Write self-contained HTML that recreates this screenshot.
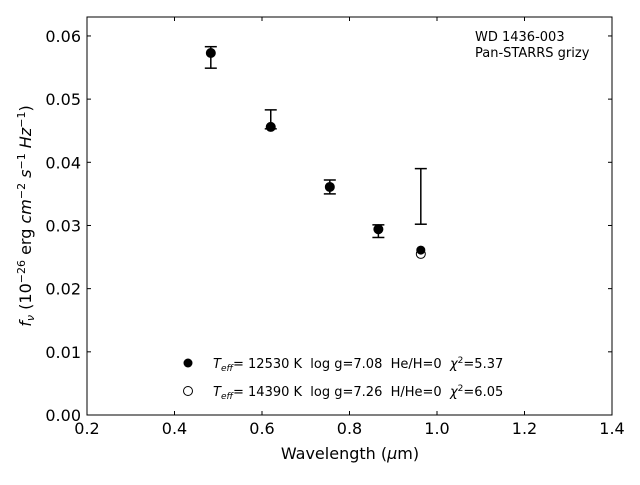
<!DOCTYPE html>
<html><head><meta charset="utf-8"><style>
body{margin:0;background:#fff}
svg{font-family:"DejaVu Sans","Liberation Sans",sans-serif}
text{white-space:pre}
</style></head><body>
<svg id="c" width="640" height="480" viewBox="0 0 640 480">
<rect x="87" y="17" width="525" height="398" fill="#fff" stroke="#000" stroke-width="1"/>
<g id="axes"></g><g id="marks"></g>
<text x="475" y="41" font-size="13">WD 1436-003</text>
<text x="475" y="57" font-size="13">Pan-STARRS grizy</text>
<text x="350" y="459" font-size="16" text-anchor="middle">Wavelength (<tspan font-style="italic">μ</tspan>m)</text>
<text transform="translate(31,216) rotate(-90)" font-size="16" text-anchor="middle"><tspan font-style="italic">f<tspan font-size="11" dy="3">ν</tspan></tspan><tspan dy="-3"> (10</tspan><tspan font-size="11" dy="-6">−26</tspan><tspan dy="6"> erg </tspan><tspan font-style="italic">cm</tspan><tspan font-size="11" dy="-6">−2</tspan><tspan dy="6" font-style="italic"> s</tspan><tspan font-size="11" dy="-6">−1</tspan><tspan dy="6" font-style="italic"> Hz</tspan><tspan font-size="11" dy="-6">−1</tspan><tspan dy="6">)</tspan></text>
<g>
<circle cx="188" cy="363" r="4.5" fill="#000"/>
<text x="213" y="368" font-size="13" xml:space="preserve"><tspan font-style="italic">T<tspan font-size="9" dy="3">eff</tspan></tspan><tspan dy="-3">= 12530 K  log g=7.08  He/H=0  </tspan><tspan font-style="italic">χ</tspan><tspan font-size="9" dy="-5">2</tspan><tspan dy="5">=5.37</tspan></text>
<circle cx="188" cy="391" r="4.5" fill="#fff" stroke="#000"/>
<text x="213" y="396" font-size="13" xml:space="preserve"><tspan font-style="italic">T<tspan font-size="9" dy="3">eff</tspan></tspan><tspan dy="-3">= 14390 K  log g=7.26  H/He=0  </tspan><tspan font-style="italic">χ</tspan><tspan font-size="9" dy="-5">2</tspan><tspan dy="5">=6.05</tspan></text>
</g>
</svg>
<script>
const wavelengths=[0.483,0.620,0.755,0.866,0.963];
const obsFlux=[0.0566,0.0468,0.0361,0.0291,0.0346];
const obsErr=[0.0017,0.0015,0.0011,0.0010,0.0044];
const model1=[0.0573,0.0456,0.0361,0.0294,0.0261];
const model2=[0.0573,0.0456,0.0361,0.0294,0.0255];
const xTicks=[0.2,0.4,0.6,0.8,1.0,1.2,1.4];
const yTicks=[0,0.01,0.02,0.03,0.04,0.05,0.06];
const NS="http://www.w3.org/2000/svg";
const X=v=>87+(v-0.2)/1.2*525;
const Y=v=>415-v/0.063*398;
function mk(t,a,p){const e=document.createElementNS(NS,t);for(const k in a)e.setAttribute(k,a[k]);p.appendChild(e);return e;}
const ax=document.getElementById('axes'),mg=document.getElementById('marks');
xTicks.forEach(t=>{const x=X(t);
let l=mk('line',{x1:x,x2:x,y1:415,y2:411,stroke:'#000'},ax);


let l2=mk('line',{x1:x,x2:x,y1:17,y2:21,stroke:'#000'},ax);


let tx=mk('text',{x:x,y:434,'font-size':16,'text-anchor':'middle'},ax);tx.textContent=t.toFixed(1);

});
yTicks.forEach(t=>{const y=Y(t);
let l=mk('line',{x1:87,x2:91,y1:y,y2:y,stroke:'#000'},ax);


let l2=mk('line',{x1:612,x2:608,y1:y,y2:y,stroke:'#000'},ax);


let tx=mk('text',{x:81,y:y+6,'font-size':16,'text-anchor':'end'},ax);tx.textContent=t.toFixed(2);

});
wavelengths.forEach((w,i)=>{const x=X(w);
const c2=mk('circle',{cx:x,cy:Y(model2[i]),r:4.5,fill:'#fff',stroke:'#000'},mg);


const c1=mk('circle',{cx:x,cy:Y(model1[i]),r:4.5,fill:'#000'},mg);


const y1=Y(obsFlux[i]+obsErr[i]),y2=Y(obsFlux[i]-obsErr[i]);
const g=mk('g',{stroke:'#000','stroke-width':1.5},mg);


mk('line',{x1:x,x2:x,y1:y1,y2:y2},g);
mk('line',{x1:x-6,x2:x+6,y1:y1,y2:y1},g);
mk('line',{x1:x-6,x2:x+6,y1:y2,y2:y2},g);});
</script>
</body></html>
